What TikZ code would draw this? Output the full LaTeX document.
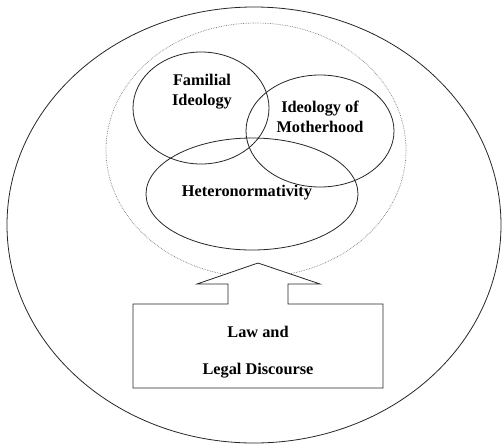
\documentclass[tikz,border=0pt]{standalone}
\usepackage{fontspec}
\setmainfont{Liberation Serif}
\begin{document}
\begin{tikzpicture}[x=1pt,y=-1pt,
  ring/.style={draw=black!85,line width=0.8pt},
  halo/.style={draw=black!50,line width=0.7pt,densely dotted},
  lbl/.style={font=\bfseries\fontsize{16.3}{20}\selectfont,align=center,inner sep=0pt}]
\useasboundingbox (0,0) rectangle (503,445);
% outer ellipse
\draw[ring] (254,225) ellipse [x radius=247, y radius=218];
% dotted halo
\draw[halo] (256,150) ellipse [x radius=150, y radius=127];
% three ellipses
\draw[ring] (201,108) ellipse [x radius=68, y radius=56];
\draw[ring] (320,131) ellipse [x radius=74, y radius=56];
\draw[ring] (252,194) ellipse [x radius=106, y radius=56];
% arrow box
\draw[ring,fill=white] (133,304) -- (228,304) -- (228,284) -- (197,284) -- (258,263)
  -- (320,284) -- (288,284) -- (288,304) -- (383,304) -- (383,388) -- (133,388) -- cycle;
% labels
\node[lbl] (fam) at (202,92) {Familial\\Ideology};
\node[lbl] (mot) at (320,117) {Ideology of\\Motherhood};
\node[lbl] (het) at (247,193) {Heteronormativity};
\node[lbl] (law) at (258,332) {Law and};
\node[lbl] (leg) at (258,371) {Legal Discourse};
\end{tikzpicture}
\end{document}
